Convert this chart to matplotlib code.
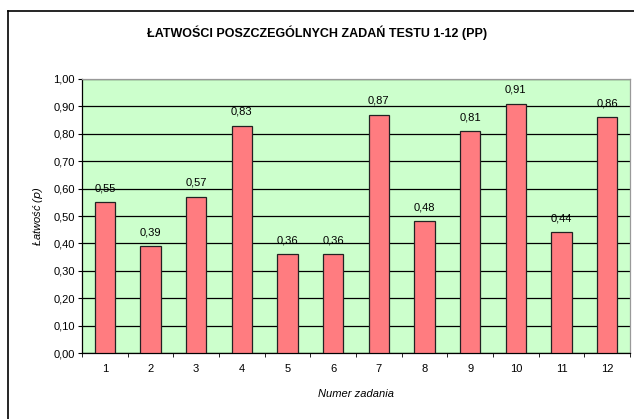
import matplotlib.pyplot as plt
from matplotlib.lines import Line2D
from matplotlib.ticker import FixedLocator

plt.rcParams['font.family'] = ['Liberation Sans', 'DejaVu Sans']

# dane
zadania = ['1', '2', '3', '4', '5', '6', '7', '8', '9', '10', '11', '12']
latwosc = [0.55, 0.39, 0.57, 0.83, 0.36, 0.36, 0.87, 0.48, 0.81, 0.91, 0.44, 0.86]

fig = plt.figure(figsize=(6.34, 4.19), dpi=100)
ax = fig.add_axes([82/634, 66/419, 548/634, 274/419])

x = list(range(len(zadania)))
ax.set_facecolor('#ccffcc')
ax.bar(x, latwosc, width=0.44, color='#ff7c80', edgecolor='#222222', linewidth=0.9, zorder=3)

# etykiety nad słupkami
for xi, v in zip(x, latwosc):
    ax.text(xi, v + 0.033, ('%.2f' % v).replace('.', ','), ha='center', va='bottom', fontsize=8, zorder=4)

ax.set_xlim(-0.5, len(zadania) - 0.5)
ax.set_ylim(0, 1.0)
ax.set_yticks([i / 10 for i in range(11)])
ax.set_yticklabels([('%.2f' % (i / 10)).replace('.', ',') for i in range(11)], fontsize=8)
ax.yaxis.grid(True, color='black', linewidth=0.9, zorder=1)

ax.set_xticks(x)
ax.set_xticklabels(zadania, fontsize=8)
ax.tick_params(axis='x', length=0, pad=8)
ax.xaxis.set_minor_locator(FixedLocator([i + 0.5 for i in range(-1, len(zadania))]))
ax.tick_params(axis='x', which='minor', length=3, direction='out', color='black')
ax.tick_params(axis='y', length=3, direction='out', color='black', pad=2)

for s in ['top', 'right']:
    ax.spines[s].set_color('#999999')
    ax.spines[s].set_linewidth(0.9)
for s in ['left', 'bottom']:
    ax.spines[s].set_color('black')
    ax.spines[s].set_linewidth(0.9)

ax.set_xlabel('Numer zadania', fontsize=8, style='italic', labelpad=11)
ax.set_ylabel('Łatwość ($\\it{p}$)', fontsize=8, style='italic', labelpad=6)

fig.text(0.5, 1 - 33/419, 'ŁATWOŚCI POSZCZEGÓLNYCH ZADAŃ TESTU 1-12 (PP)',
         ha='center', va='center', fontsize=9, fontweight='bold')

# ramka wykresu
fig.add_artist(Line2D([8/634, 8/634], [0, 1 - 11/419], color='black', linewidth=1.2, transform=fig.transFigure))
fig.add_artist(Line2D([8/634, 1], [1 - 11/419, 1 - 11/419], color='black', linewidth=1.2, transform=fig.transFigure))

fig.savefig('out.png', dpi=100)
